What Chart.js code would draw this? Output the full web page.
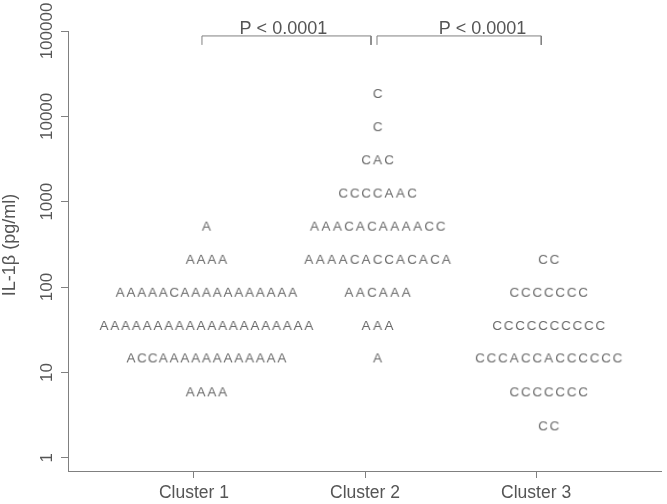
<!DOCTYPE html>
<html>
<head>
<meta charset="utf-8">
<script src="https://cdn.jsdelivr.net/npm/chart.js@4/dist/chart.umd.min.js"></script>
<style>
  html, body { margin: 0; padding: 0; background: #fff; }
  #wrap { width: 667px; height: 504px; }
</style>
</head>
<body>
<div id="wrap"><canvas id="chart"></canvas></div>
<script>
const clusterNames = ['Cluster 1', 'Cluster 2', 'Cluster 3'];
// level of each stacked row (pg/ml), bottom to top
const binValues = [2.4, 6, 15, 36, 88, 214, 524, 1280, 3140, 7680, 18800];
// one string per row, every letter is one sample (A or C)
const cluster1Rows = ['', 'AAAA', 'ACCAAAAAAAAAAAA', 'AAAAAAAAAAAAAAAAAAAA', 'AAAAACAAAAAAAAAAA', 'AAAA', 'A', '', '', '', ''];
const cluster2Rows = ['', '', 'A', 'AAA', 'AACAAA', 'AAAACACCACACA', 'AAACACAAAACC', 'CCCCAAC', 'CAC', 'C', 'C'];
const cluster3Rows = ['CC', 'CCCCCCC', 'CCCACCACCCCCC', 'CCCCCCCCCC', 'CCCCCCC', 'CC', '', '', '', '', ''];
const yTicks = [1, 10, 100, 1000, 10000, 100000];
const yTitle = 'IL-1\u03b2 (pg/ml)';
const pLabels = ['P < 0.0001', 'P < 0.0001'];

// layout of the stacks and the brackets (x in cluster units, y in pg/ml)
const rowShift = 0.073;
const letterPitch = [0.063, 0.067, 0.067];
const bracketX = [[1.047, 2.035], [2.07, 3.03]];
const bracketTop = 87500;
const bracketFoot = 68700;
const pLabelX = [1.523, 2.687];

const GRAY = '#555';
const LETTER = '#6a6a6a';
const LINE = '#808080';
Chart.defaults.font.family = '"Liberation Sans", Arial, sans-serif';
Chart.defaults.color = GRAY;

function letterImage(ch) {
  const c = document.createElement('canvas');
  c.width = 12;
  c.height = 14;
  const g = c.getContext('2d');
  const size = 13.5;
  g.font = size + 'px "Liberation Sans", Arial, sans-serif';
  g.fillStyle = LETTER;
  g.textAlign = 'center';
  g.textBaseline = 'alphabetic';
  g.fillText(ch, 6, 7 + 0.358 * size);
  return c;
}

function letterPoints(letter) {
  const pts = [];
  [cluster1Rows, cluster2Rows, cluster3Rows].forEach((rows, k) => {
    rows.forEach((row, r) => {
      const n = row.length;
      for (let i = 0; i < n; i++) {
        if (row[i] !== letter) continue;
        pts.push({ x: k + 1 + rowShift + (i - (n - 1) / 2) * letterPitch[k], y: binValues[r] });
      }
    });
  });
  return pts;
}

const datasets = [];
for (const letter of ['A', 'C']) {
  datasets.push({
    label: letter,
    data: letterPoints(letter),
    pointStyle: letterImage(letter),
    pointRadius: 5,
    showLine: false,
    clip: false
  });
}
bracketX.forEach(([l, r]) => {
  datasets.push({
    label: 'bracket',
    data: [{ x: l, y: bracketFoot }, { x: l, y: bracketTop }, { x: r, y: bracketTop }, { x: r, y: bracketFoot }],
    showLine: true,
    borderColor: LINE,
    borderWidth: 1,
    pointRadius: 0,
    fill: false,
    clip: false
  });
});

const textLayer = {
  id: 'textLayer',
  afterDraw(chart) {
    const { ctx, scales: { x, y } } = chart;
    ctx.save();
    ctx.fillStyle = GRAY;
    ctx.textAlign = 'center';
    ctx.textBaseline = 'middle';
    ctx.font = '17px "Liberation Sans", Arial, sans-serif';
    for (const v of yTicks) {
      ctx.save();
      ctx.translate(47, y.getPixelForValue(v));
      ctx.rotate(-Math.PI / 2);
      ctx.fillText(String(v), 0, 0);
      ctx.restore();
    }
    ctx.font = '18px "Liberation Sans", Arial, sans-serif';
    ctx.save();
    ctx.translate(10.5, (chart.chartArea.top + chart.chartArea.bottom) / 2 - 6);
    ctx.rotate(-Math.PI / 2);
    ctx.fillText(yTitle, 0, 0);
    ctx.restore();
    ctx.textBaseline = 'alphabetic';
    pLabels.forEach((t, i) => {
      ctx.fillText(t, x.getPixelForValue(pLabelX[i]), y.getPixelForValue(bracketTop) - 2);
    });
    ctx.restore();
  }
};

new Chart(document.getElementById('chart'), {
  type: 'scatter',
  data: { datasets },
  options: {
    responsive: true,
    maintainAspectRatio: false,
    animation: false,
    layout: { padding: { top: 31, right: 5, left: 0, bottom: 0 } },
    plugins: { legend: { display: false }, tooltip: { enabled: false } },
    scales: {
      x: {
        type: 'linear',
        min: 0.264,
        max: 3.73,
        afterBuildTicks: s => { s.ticks = [1, 2, 3].map(v => ({ value: v })); },
        afterFit: s => { s.height = 33; },
        ticks: {
          callback: v => clusterNames[v - 1],
          font: { size: 17.5 },
          color: GRAY,
          padding: 5,
          maxRotation: 0,
          autoSkip: false
        },
        grid: { display: true, drawOnChartArea: false, drawTicks: true, tickLength: 7, color: LINE },
        border: { display: true, color: LINE, width: 1 }
      },
      y: {
        type: 'logarithmic',
        min: 0.734,
        max: 100000,
        afterBuildTicks: s => { s.ticks = yTicks.map(v => ({ value: v })); },
        afterFit: s => { s.width = 68; },
        ticks: { display: false },
        grid: { display: true, drawOnChartArea: false, drawTicks: true, tickLength: 7, color: LINE },
        border: { display: true, color: LINE, width: 1 }
      }
    }
  },
  plugins: [textLayer]
});
</script>
</body>
</html>
